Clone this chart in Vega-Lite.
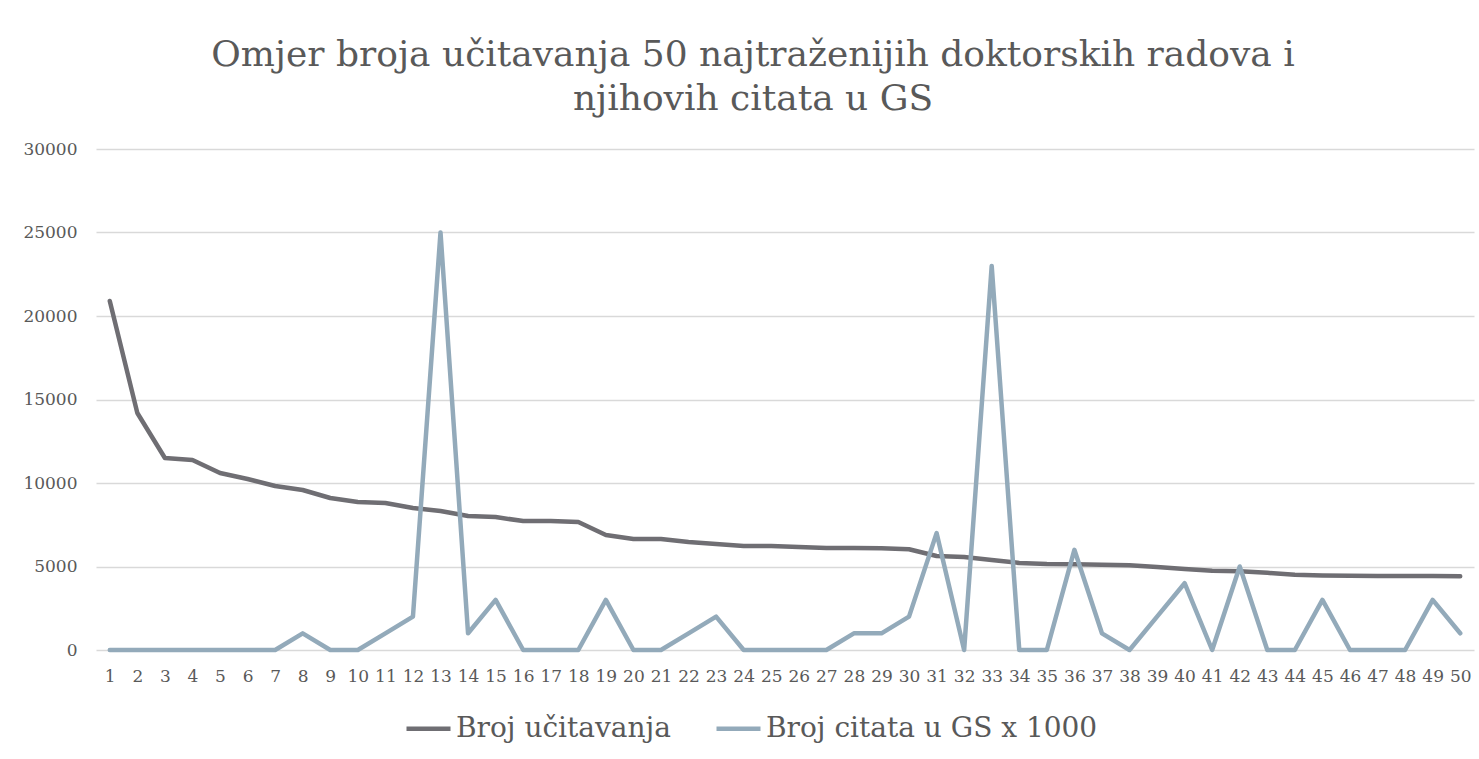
{
  "$schema": "https://vega.github.io/schema/vega-lite/v6.json",
  "width": 1378,
  "height": 501,
  "autosize": {"type": "none"},
  "padding": {"left": 96, "top": 149, "right": 5, "bottom": 109},
  "background": "white",
  "title": {
    "text": ["Omjer broja učitavanja 50 najtraženijih doktorskih radova i", "njihovih citata u GS"],
    "font": "DejaVu Serif",
    "fontSize": 36,
    "fontWeight": "normal",
    "color": "#595959",
    "lineHeight": 44,
    "anchor": "middle",
    "offset": 22,
    "dx": -32
  },
  "data": {
    "values": [
      {"n": 1, "Broj učitavanja": 20900, "Broj citata u GS x 1000": 0},
      {"n": 2, "Broj učitavanja": 14190, "Broj citata u GS x 1000": 0},
      {"n": 3, "Broj učitavanja": 11500, "Broj citata u GS x 1000": 0},
      {"n": 4, "Broj učitavanja": 11380, "Broj citata u GS x 1000": 0},
      {"n": 5, "Broj učitavanja": 10600, "Broj citata u GS x 1000": 0},
      {"n": 6, "Broj učitavanja": 10240, "Broj citata u GS x 1000": 0},
      {"n": 7, "Broj učitavanja": 9820, "Broj citata u GS x 1000": 0},
      {"n": 8, "Broj učitavanja": 9580, "Broj citata u GS x 1000": 1000},
      {"n": 9, "Broj učitavanja": 9100, "Broj citata u GS x 1000": 0},
      {"n": 10, "Broj učitavanja": 8860, "Broj citata u GS x 1000": 0},
      {"n": 11, "Broj učitavanja": 8800, "Broj citata u GS x 1000": 1000},
      {"n": 12, "Broj učitavanja": 8500, "Broj citata u GS x 1000": 2000},
      {"n": 13, "Broj učitavanja": 8320, "Broj citata u GS x 1000": 25000},
      {"n": 14, "Broj učitavanja": 8020, "Broj citata u GS x 1000": 1000},
      {"n": 15, "Broj učitavanja": 7960, "Broj citata u GS x 1000": 3000},
      {"n": 16, "Broj učitavanja": 7720, "Broj citata u GS x 1000": 0},
      {"n": 17, "Broj učitavanja": 7720, "Broj citata u GS x 1000": 0},
      {"n": 18, "Broj učitavanja": 7660, "Broj citata u GS x 1000": 0},
      {"n": 19, "Broj učitavanja": 6890, "Broj citata u GS x 1000": 3000},
      {"n": 20, "Broj učitavanja": 6650, "Broj citata u GS x 1000": 0},
      {"n": 21, "Broj učitavanja": 6650, "Broj citata u GS x 1000": 0},
      {"n": 22, "Broj učitavanja": 6470, "Broj citata u GS x 1000": 1000},
      {"n": 23, "Broj učitavanja": 6350, "Broj citata u GS x 1000": 2000},
      {"n": 24, "Broj učitavanja": 6230, "Broj citata u GS x 1000": 0},
      {"n": 25, "Broj učitavanja": 6230, "Broj citata u GS x 1000": 0},
      {"n": 26, "Broj učitavanja": 6170, "Broj citata u GS x 1000": 0},
      {"n": 27, "Broj učitavanja": 6110, "Broj citata u GS x 1000": 0},
      {"n": 28, "Broj učitavanja": 6110, "Broj citata u GS x 1000": 1000},
      {"n": 29, "Broj učitavanja": 6090, "Broj citata u GS x 1000": 1000},
      {"n": 30, "Broj učitavanja": 6030, "Broj citata u GS x 1000": 2000},
      {"n": 31, "Broj učitavanja": 5630, "Broj citata u GS x 1000": 7000},
      {"n": 32, "Broj učitavanja": 5570, "Broj citata u GS x 1000": 0},
      {"n": 33, "Broj učitavanja": 5390, "Broj citata u GS x 1000": 23000},
      {"n": 34, "Broj učitavanja": 5210, "Broj citata u GS x 1000": 0},
      {"n": 35, "Broj učitavanja": 5150, "Broj citata u GS x 1000": 0},
      {"n": 36, "Broj učitavanja": 5130, "Broj citata u GS x 1000": 6000},
      {"n": 37, "Broj učitavanja": 5100, "Broj citata u GS x 1000": 1000},
      {"n": 38, "Broj učitavanja": 5080, "Broj citata u GS x 1000": 0},
      {"n": 39, "Broj učitavanja": 4970, "Broj citata u GS x 1000": 2000},
      {"n": 40, "Broj učitavanja": 4850, "Broj citata u GS x 1000": 4000},
      {"n": 41, "Broj učitavanja": 4740, "Broj citata u GS x 1000": 0},
      {"n": 42, "Broj učitavanja": 4720, "Broj citata u GS x 1000": 5000},
      {"n": 43, "Broj učitavanja": 4620, "Broj citata u GS x 1000": 0},
      {"n": 44, "Broj učitavanja": 4500, "Broj citata u GS x 1000": 0},
      {"n": 45, "Broj učitavanja": 4460, "Broj citata u GS x 1000": 3000},
      {"n": 46, "Broj učitavanja": 4440, "Broj citata u GS x 1000": 0},
      {"n": 47, "Broj učitavanja": 4430, "Broj citata u GS x 1000": 0},
      {"n": 48, "Broj učitavanja": 4430, "Broj citata u GS x 1000": 0},
      {"n": 49, "Broj učitavanja": 4430, "Broj citata u GS x 1000": 3000},
      {"n": 50, "Broj učitavanja": 4420, "Broj citata u GS x 1000": 1000}
    ]
  },
  "transform": [
    {"fold": ["Broj učitavanja", "Broj citata u GS x 1000"], "as": ["serija", "vrijednost"]}
  ],
  "mark": {"type": "line", "strokeWidth": 4.5, "strokeCap": "round", "strokeJoin": "round"},
  "encoding": {
    "x": {
      "field": "n",
      "type": "ordinal",
      "scale": {"type": "point", "padding": 0.5},
      "axis": {
        "title": null,
        "labelAngle": 0,
        "labelFont": "DejaVu Serif",
        "labelFontSize": 17,
        "labelColor": "#595959",
        "labelPadding": 18,
        "ticks": false,
        "domain": false,
        "grid": false
      }
    },
    "y": {
      "field": "vrijednost",
      "type": "quantitative",
      "scale": {"domain": [0, 30000], "nice": false},
      "axis": {
        "title": null,
        "values": [0, 5000, 10000, 15000, 20000, 25000, 30000],
        "format": "d",
        "labelFont": "DejaVu Serif",
        "labelFontSize": 17,
        "labelColor": "#595959",
        "labelPadding": 19,
        "ticks": false,
        "domain": false,
        "grid": true,
        "gridColor": "#d9d9d9",
        "gridWidth": 1.5
      }
    },
    "color": {
      "field": "serija",
      "type": "nominal",
      "sort": ["Broj učitavanja", "Broj citata u GS x 1000"],
      "scale": {
        "domain": ["Broj učitavanja", "Broj citata u GS x 1000"],
        "range": ["#6f6e73", "#93aaba"]
      },
      "legend": {
        "title": null,
        "orient": "none",
        "direction": "horizontal",
        "legendX": 308,
        "legendY": 555,
        "symbolType": "stroke",
        "symbolSize": 1936,
        "symbolStrokeWidth": 4.5,
        "labelFont": "DejaVu Serif",
        "labelFontSize": 28,
        "labelColor": "#595959",
        "labelOffset": 3,
        "columnPadding": 36,
        "labelLimit": 600
      }
    }
  },
  "config": {"view": {"stroke": null}}
}
